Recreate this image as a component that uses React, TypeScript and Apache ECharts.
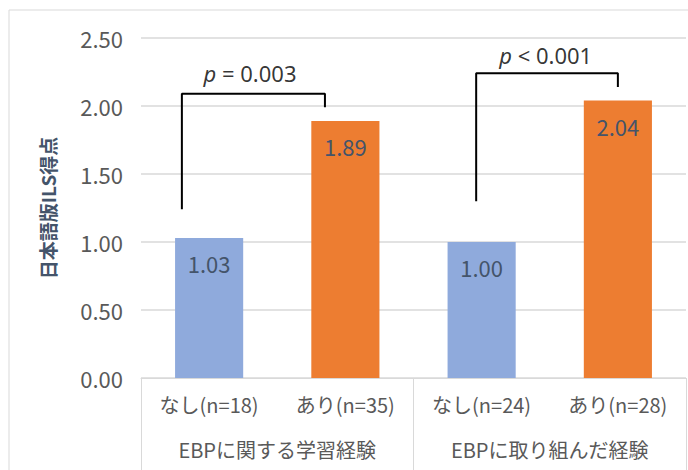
import React, { useEffect, useRef } from "react";
import * as echarts from "echarts";

const categories = ["なし(n=18)", "あり(n=35)", "なし(n=24)", "あり(n=28)"];
const groups = ["EBPに関する学習経験", "EBPに取り組んだ経験"];
const scores = [1.03, 1.89, 1.0, 2.04];
const barColors = ["#8FAADC", "#ED7D31", "#8FAADC", "#ED7D31"];
const yTicks = { min: 0, max: 2.5, interval: 0.5 };
const bracket1 = [[-0.2, 1.24], [-0.2, 2.09], [0.85, 2.09], [0.85, 1.99]];
const bracket2 = [[1.96, 1.3], [1.96, 2.24], [3.0, 2.24], [3.0, 2.14]];
const pLabels = [
  { x: 0.3, y: 2.24, op: "=", val: "0.003" },
  { x: 2.47, y: 2.375, op: "<", val: "0.001" },
];

const JP = "'Noto Sans CJK JP', 'Noto Sans', sans-serif";

export default function App() {
  const ref = useRef<HTMLDivElement>(null);
  useEffect(() => {
    if (!ref.current) return;
    const chart = echarts.init(ref.current, null, { renderer: "svg" });
    chart.setOption({
      animation: false,
      backgroundColor: "#ffffff",
      grid: { left: 141, right: 2, top: 38, bottom: 92 },
      graphic: [
        {
          type: "rect",
          shape: { x: 9, y: 10, width: 720, height: 520 },
          style: { fill: "none", stroke: "#d9d9d9", lineWidth: 1 },
          silent: true,
        },
      ],
      xAxis: [
        {
          type: "category",
          data: categories,
          position: "bottom",
          axisLine: { show: true, lineStyle: { color: "#d9d9d9", width: 1 } },
          axisTick: { show: false },
          axisLabel: { margin: 16, fontSize: 20, color: "#595959", fontFamily: JP, interval: 0 },
        },
        {
          type: "category",
          data: groups,
          position: "bottom",
          axisLine: { show: false },
          axisTick: { show: true, length: 95, lineStyle: { color: "#d9d9d9", width: 1 } },
          axisLabel: { margin: 61, fontSize: 20, color: "#595959", fontFamily: JP, interval: 0 },
        },
        {
          type: "value",
          min: -0.5,
          max: 3.5,
          show: false,
        },
      ],
      yAxis: {
        type: "value",
        min: yTicks.min,
        max: yTicks.max,
        interval: yTicks.interval,
        name: "日本語版ILS得点",
        nameLocation: "middle",
        nameGap: 84,
        nameTextStyle: { fontSize: 19, fontWeight: "bold", color: "#44546A", fontFamily: JP },
        axisLine: { show: false },
        axisTick: { show: false },
        axisLabel: {
          margin: 18,
          fontSize: 22,
          color: "#595959",
          fontFamily: JP,
          formatter: (v: number) => v.toFixed(2),
        },
        splitLine: { lineStyle: { color: "#d9d9d9", width: 1.5 } },
      },
      series: [
        {
          type: "bar",
          xAxisIndex: 0,
          barWidth: "50%",
          data: scores.map((v, i) => ({ value: v, itemStyle: { color: barColors[i] } })),
          label: {
            show: true,
            position: "insideTop",
            distance: 14,
            fontSize: 22,
            color: "#44546A",
            fontFamily: JP,
            formatter: (p: any) => Number(p.value).toFixed(2),
          },
        },
        {
          type: "line",
          xAxisIndex: 2,
          data: bracket1,
          symbol: "none",
          lineStyle: { color: "#000000", width: 2 },
          silent: true,
        },
        {
          type: "line",
          xAxisIndex: 2,
          data: bracket2,
          symbol: "none",
          lineStyle: { color: "#000000", width: 2 },
          silent: true,
        },
        {
          type: "scatter",
          xAxisIndex: 2,
          symbolSize: 0,
          data: pLabels.map((p) => [p.x, p.y, p.op, p.val]),
          label: {
            show: true,
            position: "inside",
            formatter: (p: any) => `{i|p} ${p.data[2]} ${p.data[3]}`,
            fontSize: 22,
            color: "#000000",
            fontFamily: "'Noto Sans', sans-serif",
            rich: {
              i: { fontStyle: "italic", fontSize: 22, color: "#000000", fontFamily: "'Noto Sans', sans-serif" },
            },
          },
          silent: true,
        },
      ],
    });
    return () => chart.dispose();
  }, []);
  return (
    <div
      ref={ref}
      style={{ position: "fixed", left: 0, top: 0, width: 688, height: 470, background: "#fff" }}
    />
  );
}
